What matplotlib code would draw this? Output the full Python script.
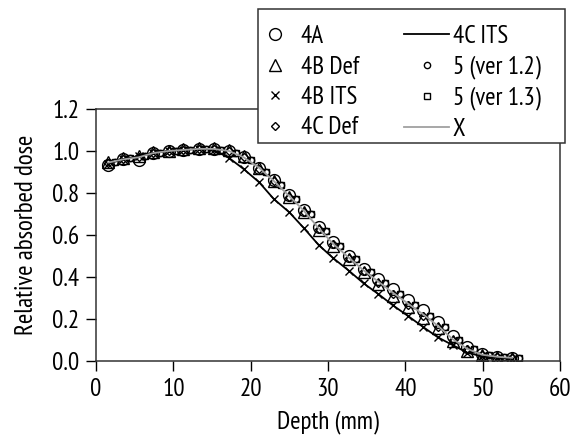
import matplotlib
matplotlib.use('Agg')
import matplotlib.pyplot as plt
from matplotlib.patches import Rectangle

plt.rcParams['font.family'] = ['PT Sans Narrow', 'Roboto Condensed', 'DejaVu Sans']

depth = [1.6, 3.5, 5.5, 7.4, 9.4, 11.3, 13.3, 15.2, 17.2, 19.1, 21.1, 23.0, 25.0, 26.9,
         28.8, 30.7, 32.7, 34.6, 36.5, 38.4, 40.4, 42.3, 44.2, 46.1, 48.0, 49.9, 51.9, 53.8]
depth5 = [2.5, 4.4, 6.4, 8.3, 10.3, 12.2, 14.2, 16.1, 18.1, 20.0, 22.0, 23.9, 25.9, 27.8,
          29.7, 31.6, 33.6, 35.5, 37.4, 39.3, 41.3, 43.2, 45.1, 47.0, 48.9, 50.8, 52.8, 54.7]

dose_4A = [0.935, 0.96, 0.955, 0.99, 1.0, 1.005, 1.01, 1.01, 1.0, 0.97, 0.92, 0.86, 0.79, 0.72,
           0.64, 0.565, 0.5, 0.44, 0.39, 0.345, 0.29, 0.245, 0.185, 0.12, 0.068, 0.035, 0.02, 0.015]
dose_4B_def = [0.95, 0.965, 0.975, 0.995, 1.0, 1.01, 1.015, 1.015, 1.005, 0.975, 0.92, 0.855, 0.78, 0.71,
               0.625, 0.55, 0.485, 0.425, 0.365, 0.31, 0.258, 0.205, 0.155, 0.095, 0.05, 0.03, 0.02, 0.015]
dose_ITS = [0.94, 0.96, 0.975, 0.99, 1.0, 1.005, 1.01, 1.005, 0.967, 0.914, 0.851, 0.771, 0.708, 0.632,
            0.552, 0.489, 0.43, 0.37, 0.319, 0.265, 0.213, 0.162, 0.113, 0.076, 0.04, 0.022, 0.015, 0.01]
dose_4C_def = [0.945, 0.96, 0.97, 0.99, 1.0, 1.005, 1.01, 1.01, 1.0, 0.97, 0.915, 0.855, 0.78, 0.71,
               0.63, 0.555, 0.49, 0.43, 0.37, 0.32, 0.265, 0.215, 0.16, 0.1, 0.055, 0.03, 0.02, 0.015]
dose_5_v12 = [0.95, 0.965, 0.975, 0.99, 1.0, 1.005, 1.01, 1.005, 0.99, 0.955, 0.9, 0.84, 0.77, 0.7,
              0.62, 0.55, 0.485, 0.425, 0.37, 0.32, 0.265, 0.215, 0.16, 0.1, 0.055, 0.03, 0.02, 0.015]
dose_5_v13 = [0.95, 0.965, 0.975, 0.99, 1.0, 1.005, 1.01, 1.005, 0.99, 0.955, 0.9, 0.84, 0.77, 0.7,
              0.62, 0.55, 0.485, 0.425, 0.37, 0.32, 0.265, 0.215, 0.16, 0.1, 0.055, 0.03, 0.02, 0.015]
dose_X = [0.945, 0.96, 0.97, 0.99, 1.0, 1.005, 1.01, 1.01, 1.0, 0.97, 0.92, 0.857, 0.785, 0.715,
          0.632, 0.557, 0.492, 0.432, 0.378, 0.325, 0.272, 0.222, 0.168, 0.105, 0.058, 0.03, 0.02, 0.015]

fig = plt.figure(figsize=(5.79, 4.37), dpi=100)
ax = fig.add_axes([96/579, 1-361/437, 464/579, 252/437])

fs = 18
mk = dict(linestyle='none', markerfacecolor='none', markeredgecolor='black', markeredgewidth=1.0)
ax.plot(depth, dose_4A, marker='o', markersize=8.5, label='4A', **mk)
ax.plot(depth, dose_4B_def, marker='^', markersize=8.5, label='4B Def', **mk)
ax.plot(depth, dose_ITS, marker='x', markersize=6, label='4B ITS', **mk)
ax.plot(depth, dose_4C_def, marker='D', markersize=4.5, label='4C Def', **mk)
ax.plot(depth, dose_ITS, color='black', linewidth=1.3, label='4C ITS')
ax.plot(depth5, dose_5_v12, marker='o', markersize=4.5, label='5 (ver 1.2)', **mk)
ax.plot(depth5, dose_5_v13, marker='s', markersize=4.5, label='5 (ver 1.3)', **mk)
ax.plot(depth, dose_X, color='#a0a0a0', linewidth=1.3, label='X')

ax.set_xlim(0, 60)
ax.set_ylim(0, 1.2)
ax.set_xticks([0, 10, 20, 30, 40, 50, 60])
ax.set_yticks([0.0, 0.2, 0.4, 0.6, 0.8, 1.0, 1.2])
ax.set_yticklabels(['0.0', '0.2', '0.4', '0.6', '0.8', '1.0', '1.2'])
ax.tick_params(direction='out', length=7, width=1.0, labelsize=fs, pad=5)
ax.tick_params(axis='x', pad=5)
for s in ax.spines.values():
    s.set_linewidth(1.1)
    s.set_color('#333333')
ax.set_xlabel('Depth (mm)', fontsize=fs, labelpad=7)
ax.set_ylabel('Relative absorbed dose', fontsize=fs, labelpad=10)

# legend box drawn separately so it can sit over the axes corner
box = Rectangle((258/579, 1-143/437), 307/579, 134/437, transform=fig.transFigure,
                facecolor='white', edgecolor='#333333', linewidth=1.1, zorder=3)
fig.add_artist(box)

handles, labels = ax.get_legend_handles_labels()
leg = fig.legend(handles, labels, ncol=2, loc='upper left', bbox_to_anchor=(252/579, 1-25/437),
                 fontsize=fs, frameon=False, handlelength=1.8, handletextpad=0.15,
                 labelspacing=0.3, borderpad=0.0, borderaxespad=0.0, columnspacing=1.8)
leg.set_zorder(5)

fig.savefig('out.png', dpi=100)
